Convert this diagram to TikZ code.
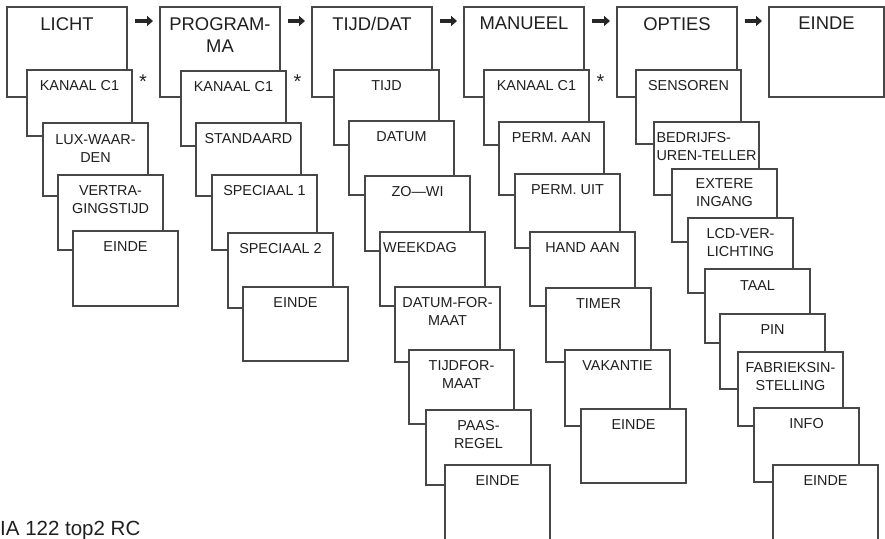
\documentclass[tikz,border=0pt]{standalone}
\usepackage{fontspec}
\setmainfont{Liberation Sans}
\usetikzlibrary{positioning,arrows.meta}
\begin{document}
\begin{tikzpicture}[x=1pt, y=-1pt,
    card/.style={draw=black!72, line width=1.2pt, fill=white, anchor=north west, minimum width=105pt, inner sep=0pt, outer sep=0pt},
    head/.style={card, minimum width=120pt, minimum height=90pt},
    headtxt/.style={inner sep=0pt, text=black!88, align=center, font=\fontsize{18.4}{22}\selectfont},
    cardtxt/.style={inner sep=0pt, text=black!88, align=center, font=\fontsize{14.4}{18}\selectfont},
    nextarrow/.style={-{Triangle[length=6pt,width=10pt]}, line width=4pt, black!85, shorten <=8pt, shorten >=7pt},
    asterisk/.style={inner sep=0pt, anchor=base, text=black!85, font=\fontsize{20}{20}\selectfont}]

    \useasboundingbox (0,0) rectangle (885,538);
    \clip (0,0) rectangle (885,538);

    
    \node[head] (l0) at (7,7) {};
    \node[headtxt, below=10pt of l0.north] (l0t) {LICHT};
    \node[card, minimum height=66pt] (l1) at (27,70) {};
    \node[cardtxt, below=10pt of l1.north] (l1t) {KANAAL C1};
    \node[card, minimum height=73pt] (l2) at (43,123) {};
    \node[cardtxt, below=11pt of l2.north] (l2t) {LUX-WAAR-\\DEN};
    \node[card, minimum height=75pt] (l3) at (58,175) {};
    \node[cardtxt, below=10pt of l3.north] (l3t) {VERTRA-\\GINGSTIJD};
    \node[card, minimum height=75pt] (l4) at (73,231) {};
    \node[cardtxt, below=10pt of l4.north] (l4t) {EINDE};

    
    \node[head] (p0) at (160,7) {};
    \node[headtxt, below=10pt of p0.north] (p0t) {PROGRAM-\\MA};
    \node[card, minimum height=75pt] (p1) at (181,71) {};
    \node[cardtxt, below=10pt of p1.north] (p1t) {KANAAL C1};
    \node[card, minimum height=73pt] (p2) at (196,123) {};
    \node[cardtxt, below=10pt of p2.north] (p2t) {STANDAARD};
    \node[card, minimum height=75pt] (p3) at (212,175) {};
    \node[cardtxt, below=10pt of p3.north] (p3t) {SPECIAAL 1};
    \node[card, minimum height=75pt] (p4) at (228,233) {};
    \node[cardtxt, below=10pt of p4.north] (p4t) {SPECIAAL 2};
    \node[card, minimum height=74pt] (p5) at (243,287) {};
    \node[cardtxt, below=10pt of p5.north] (p5t) {EINDE};

    
    \node[head] (t0) at (312,7) {};
    \node[headtxt, below=10pt of t0.north] (t0t) {TIJD/DAT};
    \node[card, minimum height=75pt] (t1) at (334,70) {};
    \node[cardtxt, below=10pt of t1.north] (t1t) {TIJD};
    \node[card, minimum height=74pt] (t2) at (349,121) {};
    \node[cardtxt, below=10pt of t2.north] (t2t) {DATUM};
    \node[card, minimum height=75pt] (t3) at (365,176) {};
    \node[cardtxt, below=10pt of t3.north] (t3t) {ZO—WI};
    \node[card, minimum height=74pt] (t4) at (380,232) {};
    \node[cardtxt, anchor=north west, below right=10pt and 3pt of t4.north west] (t4t) {WEEKDAG};
    \node[card, minimum height=75pt] (t5) at (395,287) {};
    \node[cardtxt, below=10pt of t5.north] (t5t) {DATUM-FOR-\\MAAT};
    \node[card, minimum height=74pt] (t6) at (409,350) {};
    \node[cardtxt, below=10pt of t6.north] (t6t) {TIJDFOR-\\MAAT};
    \node[card, minimum height=75pt] (t7) at (426,410) {};
    \node[cardtxt, below=10pt of t7.north] (t7t) {PAAS-\\REGEL};
    \node[card, minimum height=100pt] (t8) at (445,465) {};
    \node[cardtxt, below=10pt of t8.north] (t8t) {EINDE};

    
    \node[head] (m0) at (464,7) {};
    \node[headtxt, below=10pt of m0.north] (m0t) {MANUEEL};
    \node[card, minimum height=75pt] (m1) at (484,70) {};
    \node[cardtxt, below=10pt of m1.north] (m1t) {KANAAL C1};
    \node[card, minimum height=73pt] (m2) at (499,122) {};
    \node[cardtxt, below=10pt of m2.north] (m2t) {PERM. AAN};
    \node[card, minimum height=74pt] (m3) at (515,174) {};
    \node[cardtxt, below=10pt of m3.north] (m3t) {PERM. UIT};
    \node[card, minimum height=74pt] (m4) at (530,232) {};
    \node[cardtxt, below=10pt of m4.north] (m4t) {HAND AAN};
    \node[card, minimum height=74pt] (m5) at (546,288) {};
    \node[cardtxt, below=10pt of m5.north] (m5t) {TIMER};
    \node[card, minimum height=76pt] (m6) at (565,350) {};
    \node[cardtxt, below=10pt of m6.north] (m6t) {VAKANTIE};
    \node[card, minimum height=74pt] (m7) at (581,409) {};
    \node[cardtxt, below=10pt of m7.north] (m7t) {EINDE};

    
    \node[head] (o0) at (617,7) {};
    \node[headtxt, below=10pt of o0.north] (o0t) {OPTIES};
    \node[card, minimum height=74pt] (o1) at (636,70) {};
    \node[cardtxt, below=10pt of o1.north] (o1t) {SENSOREN};
    \node[card, minimum height=73pt] (o2) at (654,122) {};
    \node[cardtxt, align=left, below=10pt of o2.north] (o2t) {BEDRIJFS-\\UREN-TELLER};
    \node[card, minimum height=73pt] (o3) at (672,169) {};
    \node[cardtxt, below=9pt of o3.north] (o3t) {EXTERE\\INGANG};
    \node[card, minimum height=75pt] (o4) at (688,218) {};
    \node[cardtxt, below=10pt of o4.north] (o4t) {LCD-VER-\\LICHTING};
    \node[card, minimum height=74pt] (o5) at (705,269) {};
    \node[cardtxt, below=11pt of o5.north] (o5t) {TAAL};
    \node[card, minimum height=75pt] (o6) at (720,314) {};
    \node[cardtxt, below=10pt of o6.north] (o6t) {PIN};
    \node[card, minimum height=74pt] (o7) at (738,352) {};
    \node[cardtxt, below=10pt of o7.north] (o7t) {FABRIEKSIN-\\STELLING};
    \node[card, minimum height=74pt] (o8) at (754,408) {};
    \node[cardtxt, below=10pt of o8.north] (o8t) {INFO};
    \node[card, minimum height=100pt] (o9) at (773,465) {};
    \node[cardtxt, below=10pt of o9.north] (o9t) {EINDE};

    
    \node[head, minimum width=115pt] (e0) at (769,7) {};
    \node[headtxt, below=10pt of e0.north] (e0t) {EINDE};

    \draw[nextarrow] ([yshift=-14pt]l0.north east) -- ([yshift=-14pt]p0.north west);
    \draw[nextarrow] ([yshift=-14pt]p0.north east) -- ([yshift=-14pt]t0.north west);
    \draw[nextarrow] ([yshift=-14pt]t0.north east) -- ([yshift=-14pt]m0.north west);
    \draw[nextarrow] ([yshift=-14pt]m0.north east) -- ([yshift=-14pt]o0.north west);
    \draw[nextarrow] ([yshift=-14pt]o0.north east) -- ([yshift=-14pt]e0.north west);

    \node[asterisk] (s1) at ([shift={(11pt,-18.5pt)}]l1.north east) {*};
    \node[asterisk] (s2) at ([shift={(11.5pt,-17.5pt)}]p1.north east) {*};
    \node[asterisk] (s3) at ([shift={(11.5pt,-18.5pt)}]m1.north east) {*};

    \node[anchor=base west, inner sep=0pt, text=black!88, font=\fontsize{20.5}{24}\selectfont] (typ) at (0,535) {IA 122 top2 RC};

\end{tikzpicture}
\end{document}
